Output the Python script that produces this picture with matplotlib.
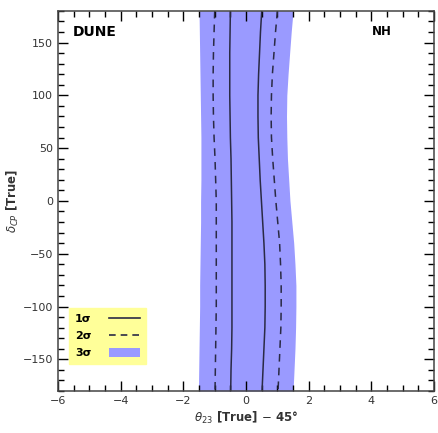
import numpy as np
import matplotlib.pyplot as plt
from matplotlib.lines import Line2D
from matplotlib.patches import Patch
from matplotlib.ticker import MultipleLocator

# delta_CP (true) grid, degrees
delta = [180, 160, 140, 120, 100, 80, 60, 40, 20, 0,
         -20, -40, -60, -80, -100, -120, -140, -160, -180]

# theta23 - 45 deg at the contour edges
sig1_left = [-0.50, -0.51, -0.52, -0.52, -0.52, -0.51, -0.50, -0.48, -0.47, -0.46,
             -0.45, -0.45, -0.45, -0.45, -0.45, -0.45, -0.46, -0.48, -0.49]
sig1_right = [0.50, 0.46, 0.43, 0.40, 0.38, 0.38, 0.39, 0.42, 0.45, 0.49,
              0.53, 0.57, 0.60, 0.61, 0.61, 0.60, 0.57, 0.54, 0.51]
sig2_left = [-1.00, -1.02, -1.04, -1.05, -1.05, -1.04, -1.02, -0.99, -0.97, -0.95,
             -0.95, -0.95, -0.95, -0.95, -0.95, -0.96, -0.97, -0.98, -0.99]
sig2_right = [1.00, 0.94, 0.89, 0.84, 0.81, 0.80, 0.81, 0.85, 0.90, 0.95,
              1.01, 1.07, 1.10, 1.12, 1.12, 1.11, 1.08, 1.05, 1.02]
sig3_left = [-1.50, -1.49, -1.48, -1.47, -1.46, -1.45, -1.44, -1.44, -1.44, -1.45,
             -1.45, -1.46, -1.47, -1.48, -1.48, -1.49, -1.50, -1.51, -1.52]
sig3_right = [1.50, 1.44, 1.39, 1.34, 1.30, 1.29, 1.30, 1.32, 1.36, 1.40,
              1.46, 1.52, 1.56, 1.59, 1.59, 1.58, 1.56, 1.53, 1.50]

band_color = "#9a9aff"
line_color = "#2a2a44"

fig = plt.figure(figsize=(4.39, 4.33), dpi=100)
ax = fig.add_axes([0.132, 0.097, 0.857, 0.878])

ax.fill_betweenx(delta, sig3_left, sig3_right, color=band_color, lw=0)
for xs in (sig1_left, sig1_right):
    ax.plot(xs, delta, color=line_color, lw=1.1)
for xs in (sig2_left, sig2_right):
    ax.plot(xs, delta, color=line_color, lw=1.1, ls=(0, (5, 4)))

ax.set_xlim(-6, 6)
ax.set_ylim(-180, 180)
ax.xaxis.set_major_locator(MultipleLocator(2))
ax.xaxis.set_minor_locator(MultipleLocator(0.5))
ax.yaxis.set_major_locator(MultipleLocator(50))
ax.yaxis.set_minor_locator(MultipleLocator(10))
ax.tick_params(which="both", direction="in", top=True, right=True,
               labelsize=8, labelcolor="#333333", width=1.0)
ax.tick_params(which="major", length=7)
ax.tick_params(which="minor", length=4)
for s in ax.spines.values():
    s.set_linewidth(1.1)
    s.set_color("#444444")

ax.set_xlabel(r"$\theta_{23}$ [True] $-$ 45°", fontsize=8.5, fontweight="bold",
              color="#333333", labelpad=3)
ax.set_ylabel(r"$\delta_{CP}$ [True]", fontsize=8.5, fontweight="bold",
              color="#333333", labelpad=1)

ax.text(0.04, 0.945, "DUNE", transform=ax.transAxes, fontsize=10,
        fontweight="bold", va="center", ha="left")
ax.text(0.86, 0.945, "NH", transform=ax.transAxes, fontsize=8.5,
        fontweight="bold", va="center", ha="center")

handles = [Line2D([], [], color=line_color, lw=1.2),
           Line2D([], [], color=line_color, lw=1.2, ls=(0, (4, 3))),
           Patch(facecolor=band_color, edgecolor="none")]
labels = ["1σ", "2σ", "3σ"]
leg = ax.legend(handles, labels, loc="lower left", bbox_to_anchor=(0.03, 0.072),
                frameon=True, fancybox=False, framealpha=1, facecolor="#ffff99",
                edgecolor="#ffff99", prop={"weight": "bold", "size": 8},
                markerfirst=False, handlelength=2.8, handleheight=0.9,
                labelspacing=0.6, borderpad=0.5, handletextpad=1.6,
                borderaxespad=0)

fig.savefig("out.png", dpi=100)
